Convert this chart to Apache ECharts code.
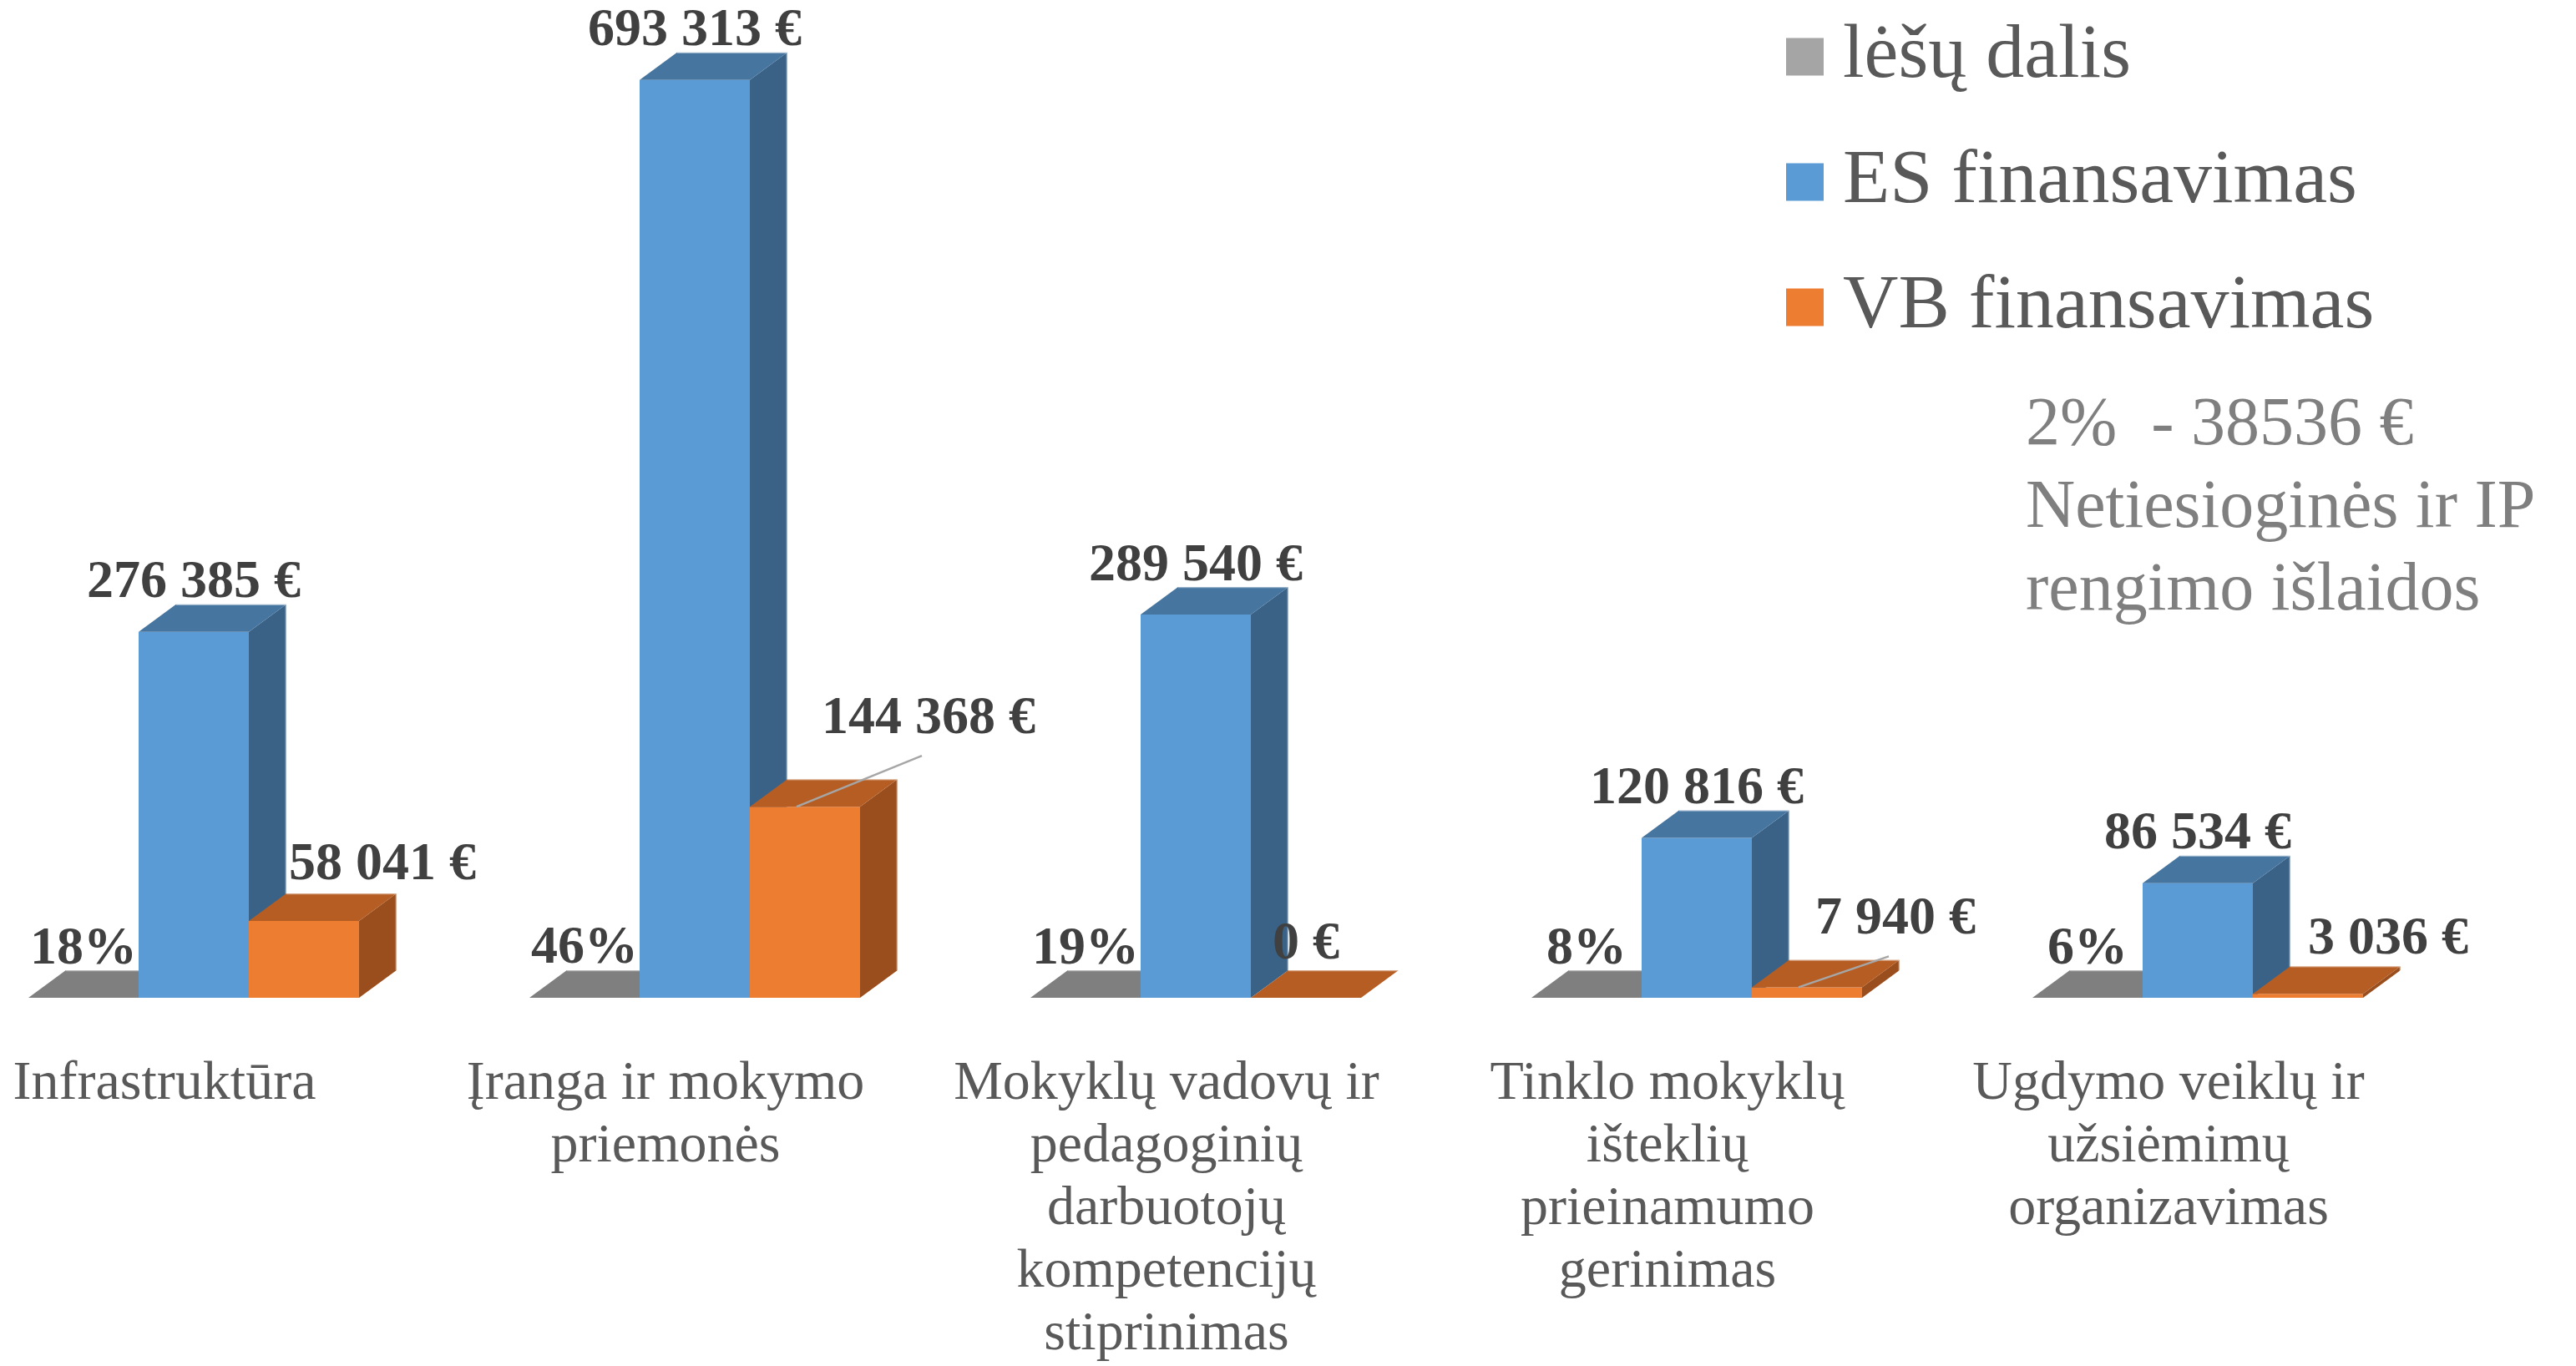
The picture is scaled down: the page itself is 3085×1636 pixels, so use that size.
<!DOCTYPE html>
<html>
<head>
<meta charset="utf-8">
<script src="https://cdn.jsdelivr.net/npm/echarts@6/dist/echarts.min.js"></script>
<style>
  html, body { margin: 0; padding: 0; background: #fff; }
  #chart { width: 3085px; height: 1636px; }
</style>
</head>
<body>
<div id="chart"></div>
<script>
// categories and values
var categories = [
  'Infrastruktūra',
  'Įranga ir mokymo\npriemonės',
  'Mokyklų vadovų ir\npedagoginių\ndarbuotojų\nkompetencijų\nstiprinimas',
  'Tinklo mokyklų\ništeklių\nprieinamumo\ngerinimas',
  'Ugdymo veiklų ir\nužsiėmimų\norganizavimas'
];
var lesuDalis = [18, 46, 19, 8, 6];           // %
var esFinansavimas = [276385, 693313, 289540, 120816, 86534];
var vbFinansavimas = [58041, 144368, 0, 7940, 3036];

// label shifts for the orange series (px), as placed in the original
var vbLabelDx = [94, 148, 0, 106, 96];
var vbLabelDy = [-34, -72, -31, -48, -32];
var vbLeader = [false, true, false, true, false];

var labelFont = 'bold 64px "Liberation Serif"';

function euro(v) {
  return String(v).replace(/\B(?=(\d{3})+(?!\d))/g, ' ') + ' €';
}

function makeRender(slot, front, topC, side, fmt, shift) {
  return function (params, api) {
    var i = api.value(0), v = api.value(1);
    var base = api.coord([i, 0]);
    var top = api.coord([i, v]);
    var band = api.size([1, 0])[0];
    var w = band * 0.22;
    var dx = w * 0.34, dy = -w * 0.25;
    var x0 = base[0] + slot * w - w / 2;
    var yb = base[1], yt = top[1];
    var kids = [];
    if (yb - yt > 0.5) {
      kids.push({ type: 'rect', shape: { x: x0, y: yt, width: w, height: yb - yt }, style: { fill: front } });
      kids.push({ type: 'polygon', shape: { points: [[x0 + w, yt], [x0 + w + dx, yt + dy], [x0 + w + dx, yb + dy], [x0 + w, yb]] }, style: { fill: side } });
    }
    kids.push({ type: 'polygon', shape: { points: [[x0, yt], [x0 + dx, yt + dy], [x0 + w + dx, yt + dy], [x0 + w, yt]] }, style: { fill: topC } });
    // light back edge, as in the original 3D bars
    kids.push({ type: 'polyline', shape: { points: [[x0 + dx, yt + dy], [x0 + w + dx, yt + dy], [x0 + w + dx, Math.max(yt, yb + dy)]] },
      style: { stroke: 'rgba(255,255,255,0.45)', lineWidth: 2.5, fill: null } });

    var cx = x0 + w / 2;
    var lx = cx, ly = yt + dy - 25;
    if (shift) {
      lx = cx + vbLabelDx[params.dataIndex];
      ly = yt + dy + vbLabelDy[params.dataIndex];
      if (vbLeader[params.dataIndex]) {
        kids.push({ type: 'line', shape: { x1: cx - 10, y1: yt, x2: lx - 8, y2: ly + 44 }, style: { stroke: '#a6a6a6', lineWidth: 2.5 }, z2: 5 });
      }
    }
    kids.push({
      type: 'text', z2: 10,
      style: { text: fmt(v), x: lx, y: ly, font: labelFont, fill: '#404040', align: 'center', verticalAlign: 'middle' }
    });
    return { type: 'group', children: kids };
  };
}

function toData(arr) {
  return arr.map(function (v, i) { return [i, v]; });
}

var chart = echarts.init(document.getElementById('chart'));
var option = {
  animation: false,
  backgroundColor: '#ffffff',
  grid: { left: 232, right: 453, top: 6, bottom: 434 },
  legend: {
    orient: 'vertical',
    left: 2134,
    top: 17,
    itemWidth: 45,
    itemHeight: 45,
    itemGap: 58,
    icon: 'rect',
    textStyle: { fontFamily: 'Liberation Serif', fontSize: 92, lineHeight: 92, color: '#595959', padding: [0, 0, 0, 18] },
    data: ['lėšų dalis', 'ES finansavimas', 'VB finansavimas']
  },
  xAxis: {
    type: 'category',
    data: categories,
    boundaryGap: false,
    axisLine: { show: false },
    axisTick: { show: false },
    splitLine: { show: false },
    axisLabel: {
      interval: 0,
      margin: 66,
      fontFamily: 'Liberation Serif',
      fontSize: 66,
      lineHeight: 75,
      color: '#595959',
      padding: [0, 70, 0, 0]
    }
  },
  yAxis: { type: 'value', min: 0, max: 750000, show: false },
  graphic: [{
    type: 'text',
    left: 2426,
    top: 461,
    style: {
      text: '2%  - 38536 €\nNetiesioginės ir IP\nrengimo išlaidos',
      font: '82px "Liberation Serif"',
      lineHeight: 99,
      fill: '#7f7f7f'
    }
  }],
  series: [
    {
      name: 'lėšų dalis', type: 'custom', itemStyle: { color: '#a5a5a5' },
      encode: { x: 0, y: 1 },
      renderItem: makeRender(-1, '#a5a5a5', '#7f7f7f', '#6b6b6b', function (v) { return v + '%'; }, false),
      data: toData(lesuDalis)
    },
    {
      name: 'ES finansavimas', type: 'custom', itemStyle: { color: '#5b9bd5' },
      encode: { x: 0, y: 1 },
      renderItem: makeRender(0, '#5b9bd5', '#4675a0', '#3a6286', euro, false),
      data: toData(esFinansavimas)
    },
    {
      name: 'VB finansavimas', type: 'custom', itemStyle: { color: '#ed7d31' },
      encode: { x: 0, y: 1 },
      renderItem: makeRender(1, '#ed7d31', '#b55d23', '#9a4e1d', euro, true),
      data: toData(vbFinansavimas)
    }
  ]
};
chart.setOption(option);
</script>
</body>
</html>
